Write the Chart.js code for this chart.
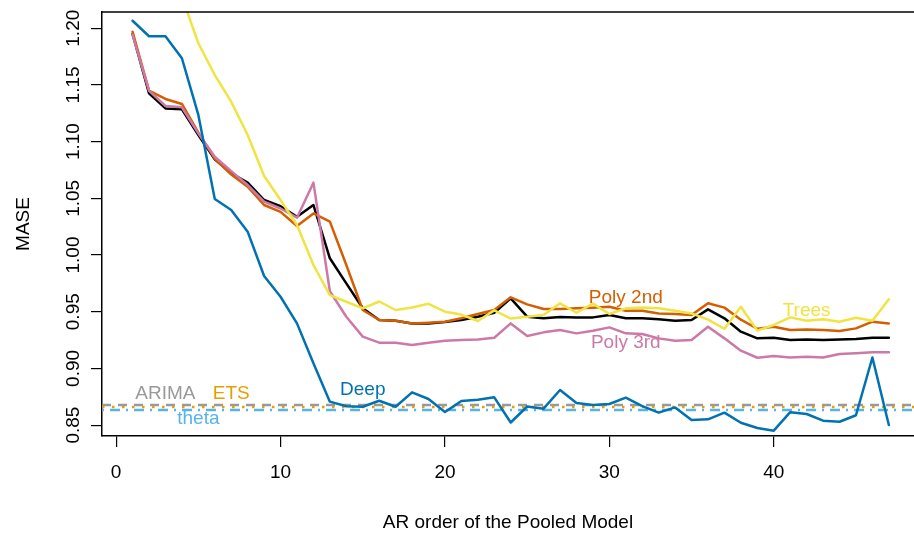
<!DOCTYPE html>
<html><head><meta charset="utf-8">
<script src="https://cdn.jsdelivr.net/npm/chart.js@4/dist/chart.umd.min.js"></script>
<style>html,body{margin:0;padding:0;background:#fff;} canvas{display:block;}</style>
</head><body>
<canvas id="c" width="914" height="534"></canvas>
<script>
// ---- data ----
const arOrder = [1,2,3,4,5,6,7,8,9,10,11,12,13,14,15,16,17,18,19,20,21,22,23,24,25,26,27,28,29,30,31,32,33,34,35,36,37,38,39,40,41,42,43,44,45,46,47];
const linearMASE = [1.195,1.1426,1.1293,1.1285,1.1058,1.0844,1.072,1.0638,1.0485,1.043,
  1.0338,1.0441,0.9971,0.975,0.953,0.9427,0.942,0.9397,0.9397,0.9409,
  0.9427,0.9456,0.9491,0.9618,0.9456,0.9442,0.9453,0.9450,0.9450,0.9471,
  0.9442,0.9442,0.9433,0.9421,0.9427,0.9521,0.9442,0.9324,0.9265,0.9271,
  0.9250,0.9256,0.9250,0.9256,0.9259,0.9271,0.9271];
const poly2MASE = [1.1969,1.1449,1.1376,1.1332,1.108,1.085,1.071,1.0602,1.0441,1.038,
  1.0256,1.0367,1.0294,0.9912,0.9515,0.9427,0.9421,0.9397,0.9403,0.9412,
  0.9442,0.9480,0.9515,0.9627,0.9565,0.9524,0.9524,0.9530,0.9536,0.9544,
  0.9509,0.9509,0.9485,0.9480,0.9471,0.9574,0.9536,0.9430,0.9350,0.9368,
  0.9339,0.9344,0.9339,0.9330,0.9353,0.9412,0.9397];
const poly3MASE = [1.194,1.1449,1.1314,1.1302,1.1073,1.0867,1.074,1.0617,1.047,1.041,
  1.0329,1.0638,0.968,0.9456,0.928,0.9227,0.9227,0.9206,0.9227,0.9244,
  0.9250,0.9256,0.9271,0.9397,0.9286,0.9318,0.9339,0.9309,0.9333,0.9362,
  0.9309,0.9303,0.9265,0.9244,0.9250,0.9368,0.9265,0.9156,0.9094,0.9109,
  0.9097,0.9103,0.9097,0.9127,0.9133,0.9142,0.9142];
const treesMASE = [1.35,1.30,1.26,1.228,1.1867,1.1587,1.1352,1.1058,1.0697,1.0485,
  1.0265,0.9912,0.9647,0.9588,0.953,0.9590,0.9515,0.9538,0.9570,0.9500,
  0.9475,0.9418,0.9512,0.9440,0.9456,0.9471,0.9574,0.9491,0.9571,0.9480,
  0.9530,0.9538,0.9530,0.9509,0.9485,0.9430,0.9350,0.9544,0.9333,0.9383,
  0.9450,0.9421,0.9433,0.9412,0.9447,0.9421,0.9609];
const deepMASE = [1.2066,1.1929,1.1929,1.1735,1.1235,1.0494,1.0397,1.0206,0.9815,0.9632,
  0.9397,0.9045,0.8707,0.8667,0.8662,0.8715,0.8662,0.8789,0.8730,0.8615,
  0.8712,0.8724,0.8745,0.8523,0.8664,0.8645,0.8810,0.8695,0.8677,0.8686,
  0.8742,0.8668,0.8610,0.8656,0.8545,0.8551,0.8610,0.8521,0.8474,0.8451,
  0.8614,0.8598,0.8539,0.8530,0.8587,0.9096,0.8501];
const arimaMASE = 0.8677;
const etsMASE = 0.8660;
const thetaMASE = 0.8633;
const xTicks = [0,10,20,30,40];
const yTicks = [0.85,0.90,0.95,1.00,1.05,1.10,1.15,1.20];
const labelTexts = ['ARIMA','ETS','theta','Deep','Poly 2nd','Poly 3rd','Trees'];
const labelX = [3,7,5,15,31,31,42];
const labelY = [0.8776,0.8776,0.8558,0.8812,0.9625,0.9226,0.9512];

// ---- styles ----
const FONT = "'Liberation Sans', Arial, Helvetica, sans-serif";
const C = {linear:'#000000', poly2:'#D55E00', poly3:'#CC79A7', trees:'#F0E442', deep:'#0072B2',
           arima:'#999999', ets:'#E69F00', theta:'#56B4E9'};
const labelColors = [C.arima, C.ets, C.theta, C.deep, C.poly2, C.poly3, C.trees];
const X_MIN = -0.86, X_MAX = 48.53, Y_MIN = 0.8404, Y_MAX = 1.2143;

const pts = arr => arOrder.map((x, i) => ({x: x, y: arr[i]}));
const hline = v => [{x: X_MIN, y: v}, {x: X_MAX, y: v}];
const series = (label, data, color) => ({label, data, borderColor: color, borderWidth: 2.5,
  pointRadius: 0, tension: 0, fill: false, clip: 0, borderJoinStyle: 'round', borderCapStyle: 'round'});
const ref = (label, v, color, dash) => ({label, data: hline(v), borderColor: color, borderWidth: 2.5,
  pointRadius: 0, fill: false, clip: 0, borderDash: dash, borderCapStyle: 'butt'});

const decor = {
  id: 'decor',
  afterDatasetsDraw(chart) {
    const {ctx, chartArea: a, scales: {x, y}} = chart;
    ctx.save();
    ctx.strokeStyle = '#000'; ctx.lineWidth = 1.5;
    ctx.beginPath(); ctx.moveTo(a.left, a.top); ctx.lineTo(a.right, a.top); ctx.stroke();
    ctx.font = '19px ' + FONT; ctx.textAlign = 'center'; ctx.textBaseline = 'middle';
    labelTexts.forEach((t, i) => {
      ctx.fillStyle = labelColors[i];
      ctx.fillText(t, x.getPixelForValue(labelX[i]), y.getPixelForValue(labelY[i]));
    });
    ctx.restore();
  }
};

new Chart(document.getElementById('c'), {
  type: 'line',
  data: { datasets: [
    series('Deep', pts(deepMASE), C.deep),
    series('Trees', pts(treesMASE), C.trees),
    series('Poly 3rd', pts(poly3MASE), C.poly3),
    series('Poly 2nd', pts(poly2MASE), C.poly2),
    series('Linear', pts(linearMASE), C.linear),
    ref('theta', thetaMASE, C.theta, [2, 6, 10, 6]),
    ref('ETS', etsMASE, C.ets, [2.5, 7.5]),
    ref('ARIMA', arimaMASE, C.arima, [9, 7])
  ]},
  options: {
    responsive: false, animation: false, devicePixelRatio: 1,
    layout: {padding: {left: 0, top: 12, right: 0, bottom: 0}},
    plugins: {legend: {display: false}, tooltip: {enabled: false}},
    scales: {
      x: {
        type: 'linear', min: X_MIN, max: X_MAX,
        afterBuildTicks: s => { s.ticks = xTicks.map(v => ({value: v})); },
        afterFit: s => { s.height = 98; },
        grid: {drawOnChartArea: false, drawTicks: true, tickLength: 11, color: '#000', lineWidth: 1.2},
        border: {display: true, color: '#000', width: 1.5},
        ticks: {color: '#000', font: {size: 19, family: FONT}, padding: 14, maxRotation: 0, autoSkip: false,
                callback: v => String(v)},
        title: {display: true, text: 'AR order of the Pooled Model', color: '#000',
                font: {size: 19, family: FONT}, padding: {top: 2.6, bottom: 0}}
      },
      y: {
        type: 'linear', min: Y_MIN, max: Y_MAX,
        afterBuildTicks: s => { s.ticks = yTicks.map(v => ({value: v})); },
        afterFit: s => { s.width = 102; },
        grid: {drawOnChartArea: false, drawTicks: true, tickLength: 11, color: '#000', lineWidth: 1.2},
        border: {display: true, color: '#000', width: 1.5},
        ticks: {color: '#000', font: {size: 19, family: FONT}, padding: -1, minRotation: 90, maxRotation: 90,
                crossAlign: 'center', autoSkip: false, callback: v => Number(v).toFixed(2)},
        title: {display: true, text: 'MASE', color: '#000',
                font: {size: 19, family: FONT}, padding: {top: 11.9, bottom: 0}}
      }
    }
  },
  plugins: [decor]
});
</script>
</body></html>
